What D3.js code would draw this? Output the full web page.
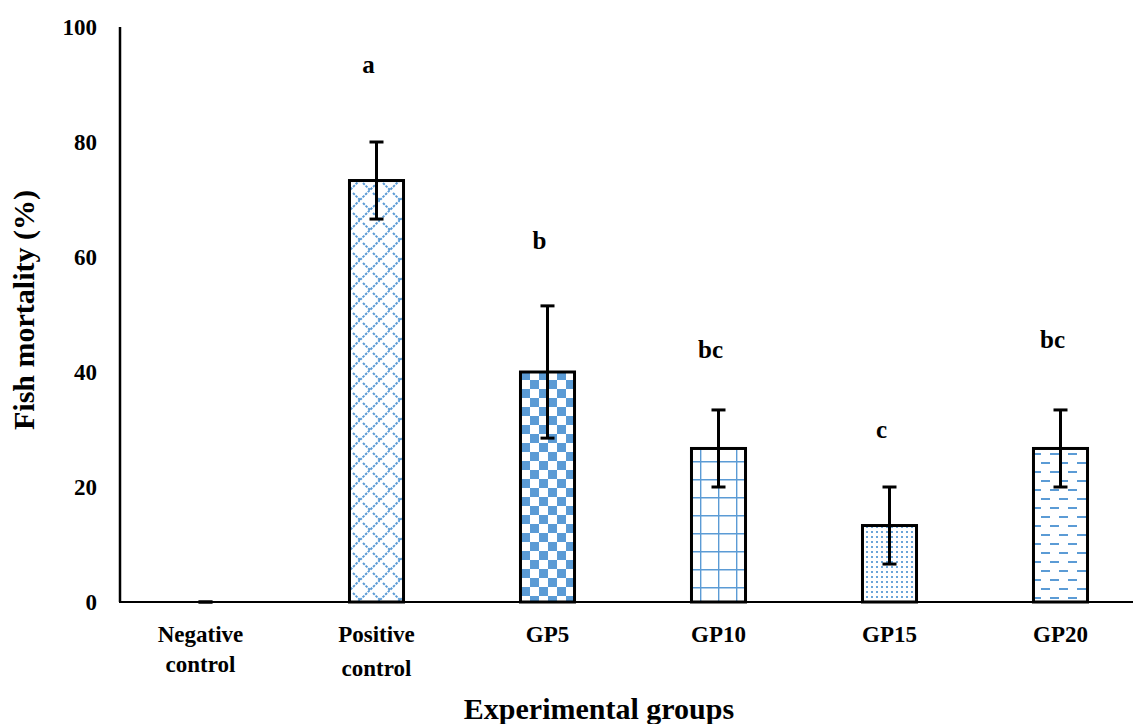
<!DOCTYPE html>
<html>
<head>
<meta charset="utf-8">
<script src="https://cdn.jsdelivr.net/npm/d3@7"></script>
<style>
  body { margin: 0; background: #fff; }
  svg text { font-family: "Liberation Serif", "Times New Roman", Times, "DejaVu Serif", serif; font-weight: bold; fill: #000; }
</style>
</head>
<body>
<div id="chart"></div>
<script>
var groups = ["Negative control", "Positive control", "GP5", "GP10", "GP15", "GP20"];
var mortality = [0, 73.3, 40, 26.7, 13.3, 26.7];
var errors = [0, 6.7, 11.5, 6.7, 6.7, 6.7];
var letters = ["", "a", "b", "bc", "c", "bc"];
var letterPos = [0, 93.5, 63, 44, 30, 45.7];
var yTicks = [0, 20, 40, 60, 80, 100];

var width = 1136, height = 724;
var blue = "#5b9bd5";
var serif = '"Liberation Serif", "Times New Roman", Times, "DejaVu Serif", serif';

var svg = d3.select('#chart').append('svg')
  .attr('width', width)
  .attr('height', height)
  .attr('font-family', serif)
  .attr('font-weight', 'bold');

var x = d3.scaleBand().domain(groups).range([120, 1146]).paddingInner(0.684).paddingOuter(0.342);
var y = d3.scaleLinear().domain([0, 100]).range([602, 27]);

// fill patterns
var defs = svg.append('defs');

var p1 = defs.append('pattern').attr('id', 'pat0').attr('patternUnits', 'userSpaceOnUse')
  .attr('width', 20).attr('height', 20);
p1.append('path').attr('d', 'M0,20 L20,0 M-5,5 L5,-5 M15,25 L25,15')
  .attr('stroke', blue).attr('stroke-width', 2).attr('stroke-dasharray', '2.5,1.2');
p1.append('path').attr('d', 'M3,3 L10,10 M13,13 L20,20')
  .attr('stroke', blue).attr('stroke-width', 2).attr('stroke-dasharray', '2.5,1.2');

var p2 = defs.append('pattern').attr('id', 'pat1').attr('patternUnits', 'userSpaceOnUse')
  .attr('width', 18).attr('height', 18).attr('x', 521).attr('y', 371);
p2.append('rect').attr('width', 9).attr('height', 9).attr('fill', blue);
p2.append('rect').attr('x', 9).attr('y', 9).attr('width', 9).attr('height', 9).attr('fill', blue);

var p3 = defs.append('pattern').attr('id', 'pat2').attr('patternUnits', 'userSpaceOnUse')
  .attr('width', 18).attr('height', 18).attr('x', 700).attr('y', 461);
p3.append('path').attr('d', 'M0,0.5 H18 M0.5,0 V18').attr('stroke', blue).attr('stroke-width', 1.8);

var p4 = defs.append('pattern').attr('id', 'pat3').attr('patternUnits', 'userSpaceOnUse')
  .attr('width', 5).attr('height', 5);
p4.append('rect').attr('x', 1).attr('y', 1).attr('width', 2).attr('height', 2).attr('fill', blue).attr('opacity', 0.9);

var p5 = defs.append('pattern').attr('id', 'pat4').attr('patternUnits', 'userSpaceOnUse')
  .attr('width', 18).attr('height', 18).attr('x', 1030).attr('y', 450);
p5.append('path').attr('d', 'M2,4 H11 M11,13 H20 M-7,13 H2').attr('stroke', blue).attr('stroke-width', 2.2);

// axes lines
svg.append('line').attr('x1', 120).attr('x2', 120).attr('y1', y(100)).attr('y2', y(0))
  .attr('stroke', '#000').attr('stroke-width', 2.5);
svg.append('line').attr('x1', 119).attr('x2', 1133).attr('y1', y(0)).attr('y2', y(0))
  .attr('stroke', '#000').attr('stroke-width', 2);

// y tick labels
svg.selectAll('.ytick').data(yTicks).enter().append('text')
  .attr('x', 97).attr('y', function(d) { return y(d); })
  .attr('dy', '0.35em').attr('text-anchor', 'end').attr('font-size', 23)
  .text(function(d) { return d; });

// bars
svg.selectAll('.bar').data(groups).enter().append('rect')
  .attr('x', function(d) { return x(d); })
  .attr('y', function(d, i) { return y(mortality[i]); })
  .attr('width', x.bandwidth())
  .attr('height', function(d, i) { return y(0) - y(mortality[i]); })
  .attr('fill', function(d, i) { return i === 0 ? 'none' : 'url(#pat' + (i - 1) + ')'; })
  .attr('stroke', '#000').attr('stroke-width', function(d, i) { return i === 0 ? 0 : 3; });

// error bars
var eb = svg.selectAll('.err').data(groups).enter().append('g')
  .attr('transform', function(d) { return 'translate(' + (x(d) + x.bandwidth() / 2) + ',0)'; });
eb.append('line')
  .attr('y1', function(d, i) { return y(mortality[i] + errors[i]); })
  .attr('y2', function(d, i) { return y(mortality[i] - errors[i]); })
  .attr('stroke', '#000').attr('stroke-width', 3);
eb.append('line').attr('x1', -7).attr('x2', 7)
  .attr('y1', function(d, i) { return y(mortality[i] + errors[i]); })
  .attr('y2', function(d, i) { return y(mortality[i] + errors[i]); })
  .attr('stroke', '#000').attr('stroke-width', 3);
eb.append('line').attr('x1', -7).attr('x2', 7)
  .attr('y1', function(d, i) { return y(mortality[i] - errors[i]); })
  .attr('y2', function(d, i) { return y(mortality[i] - errors[i]); })
  .attr('stroke', '#000').attr('stroke-width', 3);

// significance letters
svg.selectAll('.letter').data(groups).enter().append('text')
  .attr('x', function(d) { return x(d) + x.bandwidth() / 2 - 8; })
  .attr('y', function(d, i) { return y(letterPos[i]); })
  .attr('dy', '0.35em').attr('text-anchor', 'middle').attr('font-size', 25)
  .text(function(d, i) { return letters[i]; });

// x labels (wrapped)
svg.selectAll('.xlab').data(groups).enter().append('text')
  .attr('text-anchor', 'middle').attr('font-size', 23)
  .attr('transform', function(d, i) {
    var cx = x(d) + x.bandwidth() / 2 - (i === 0 ? 5 : 0);
    return 'translate(' + cx + ',642)';
  })
  .each(function(d, i) {
    var words = d.split(' ');
    var t = d3.select(this);
    words.forEach(function(w, j) {
      t.append('tspan').attr('x', 0).attr('y', j * (i === 1 ? 34 : 30)).text(w);
    });
  });

// axis titles
svg.append('text').attr('x', 599).attr('y', 719).attr('text-anchor', 'middle')
  .attr('font-size', 30).text('Experimental groups');
svg.append('text').attr('transform', 'translate(34,310) rotate(-90)')
  .attr('text-anchor', 'middle').attr('font-size', 30).text('Fish mortality (%)');
</script>
</body>
</html>
